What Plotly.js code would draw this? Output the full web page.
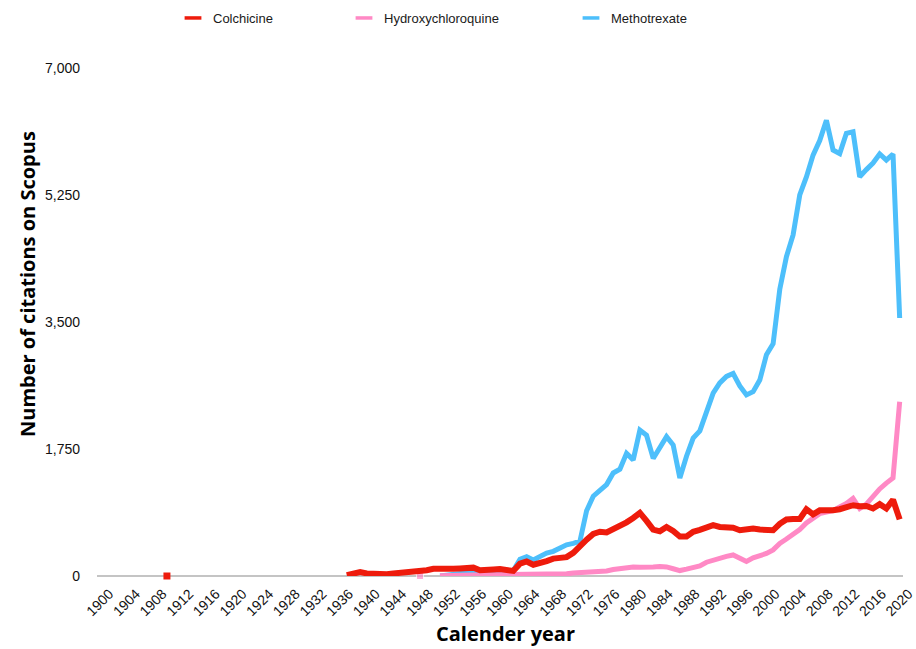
<!DOCTYPE html>
<html>
<head>
<meta charset="utf-8">
<script src="https://cdn.plot.ly/plotly-3.0.1.min.js"></script>
<style>
  html, body { margin: 0; padding: 0; background: #ffffff; }
  #chart { width: 916px; height: 649px; }
</style>
</head>
<body>
<div id="chart"></div>
<script>
// ---- Data ----
const years = [
  1937, 1938, 1939, 1940, 1941, 1942, 1943, 1944, 1945, 1946,
  1947, 1948, 1949, 1950, 1951, 1952, 1953, 1954, 1955, 1956,
  1957, 1958, 1959, 1960, 1961, 1962, 1963, 1964, 1965, 1966,
  1967, 1968, 1969, 1970, 1971, 1972, 1973, 1974, 1975, 1976,
  1977, 1978, 1979, 1980, 1981, 1982, 1983, 1984, 1985, 1986,
  1987, 1988, 1989, 1990, 1991, 1992, 1993, 1994, 1995, 1996,
  1997, 1998, 1999, 2000, 2001, 2002, 2003, 2004, 2005, 2006,
  2007, 2008, 2009, 2010, 2011, 2012, 2013, 2014, 2015, 2016,
  2017, 2018, 2019, 2020
];

const colchicine = [
  10, 40, 55, 35, 25, 25, 25, 35, 40, 45,
  50, 60, 80, 100, 95, 90, 100, 105, 110, 115,
  80, 75, 90, 95, 80, 70, 170, 200, 155, 175,
  205, 240, 250, 260, 320, 420, 500, 580, 610, 600,
  640, 680, 740, 800, 870, 760, 640, 615, 675, 620,
  545, 545, 610, 635, 665, 700, 675, 680, 665, 630,
  640, 655, 640, 630, 630, 720, 780, 785, 785, 920,
  850, 905, 900, 905, 920, 950, 975, 960, 965, 930,
  990, 930, 1050, 780
];

// isolated early Colchicine record
const colchicineEarlyYears = [1910];
const colchicineEarly = [0];

const hydroxychloroquine = [
  null, null, null, null, null, null, null, null, null, null,
  null, 0, null, null, 5, 10, 10, 10, 10, 15,
  15, 15, 15, 15, 15, 15, 20, 20, 20, 20,
  20, 20, 25, 30, 40, 45, 50, 55, 60, 70,
  90, 105, 110, 125, 120, 130, 125, 130, 125, 100,
  75, 95, 115, 140, 190, 220, 255, 270, 290, 250,
  200, 250, 275, 310, 360, 450, 510, 570, 640, 730,
  800, 860, 880, 900, 950, 1000, 1070, 930, 990, 1100,
  1200, 1280, 1350, 2400
];

const methotrexate = [
  null, null, null, null, null, null, null, null, null, null,
  null, null, null, null, 0, 15, 25, 35, 45, 55,
  60, 65, 70, 75, 75, 75, 230, 265, 220, 270,
  315, 340, 380, 430, 450, 480, 900, 1100, 1180, 1260,
  1420, 1470, 1690, 1600, 2010, 1940, 1620, 1770, 1920, 1805,
  1350, 1650, 1900, 2000, 2250, 2520, 2660, 2750, 2790, 2620,
  2495, 2540, 2700, 3050, 3200, 3950, 4400, 4700, 5250, 5500,
  5800, 6000, 6280, 5870, 5820, 6100, 6120, 5500, 5600, 5690,
  5815, 5730, 5815, 3555
];

const seriesNames = ['Colchicine', 'Hydroxychloroquine', 'Methotrexate'];
const yTickVals = [0, 1750, 3500, 5250, 7000];
const xTickStart = 1900, xTickEnd = 2020, xTickStep = 4;

// ---- Styles ----
const RED = '#ee1b0c', PINK = '#ff89c5', BLUE = '#4dbffb';
const SANS = 'Liberation Sans, Arial, sans-serif';

// marker only on points with no neighbours (so lone values stay visible)
function isolatedSizes(vals, size) {
  return vals.map((v, i) => {
    if (v === null) return 0;
    const p = i > 0 ? vals[i - 1] : null;
    const n = i < vals.length - 1 ? vals[i + 1] : null;
    return (p === null && n === null) ? size : 0;
  });
}

const traces = [
  {
    x: years, y: methotrexate, type: 'scatter', mode: 'lines+markers', cliponaxis: false,
    line: { color: BLUE, width: 5 },
    marker: { color: BLUE, symbol: 'square', size: isolatedSizes(methotrexate, 7) },
    showlegend: false, name: seriesNames[2]
  },
  {
    x: years, y: hydroxychloroquine, type: 'scatter', mode: 'lines+markers', cliponaxis: false,
    line: { color: PINK, width: 5 },
    marker: { color: PINK, symbol: 'square', size: isolatedSizes(hydroxychloroquine, 7) },
    showlegend: false, name: seriesNames[1]
  },
  {
    x: years, y: colchicine, type: 'scatter', mode: 'lines', cliponaxis: false,
    line: { color: RED, width: 6 },
    showlegend: false, name: seriesNames[0]
  },
  {
    x: colchicineEarlyYears, y: colchicineEarly, type: 'scatter', mode: 'markers', cliponaxis: false,
    marker: { color: RED, symbol: 'square', size: 7 },
    showlegend: false, name: seriesNames[0]
  },
  // legend entries (short dash swatches)
  {
    x: [null], y: [null], type: 'scatter', mode: 'markers', name: seriesNames[0],
    marker: { symbol: 'line-ew', size: 12, line: { color: RED, width: 3.5 } },
    legend: 'legend'
  },
  {
    x: [null], y: [null], type: 'scatter', mode: 'markers', name: seriesNames[1],
    marker: { symbol: 'line-ew', size: 12, line: { color: PINK, width: 3.5 } },
    legend: 'legend2'
  },
  {
    x: [null], y: [null], type: 'scatter', mode: 'markers', name: seriesNames[2],
    marker: { symbol: 'line-ew', size: 12, line: { color: BLUE, width: 3.5 } },
    legend: 'legend3'
  }
];

const xTicks = [];
for (let t = xTickStart; t <= xTickEnd; t += xTickStep) xTicks.push(t);

const legendBase = {
  orientation: 'h', xref: 'container', yref: 'container',
  xanchor: 'left', yanchor: 'middle', y: 1 - 18 / 649,
  font: { family: SANS, size: 13, color: '#1a1a1a' },
  bgcolor: 'rgba(0,0,0,0)', borderwidth: 0
};

const layout = {
  width: 916, height: 649,
  margin: { l: 97, r: 13, t: 68, b: 73 },
  paper_bgcolor: '#ffffff', plot_bgcolor: '#ffffff',
  font: { family: SANS, size: 13, color: '#1a1a1a' },
  showlegend: true,
  legend: Object.assign({}, legendBase, { x: 173 / 916 }),
  legend2: Object.assign({}, legendBase, { x: 344 / 916 }),
  legend3: Object.assign({}, legendBase, { x: 571 / 916 }),
  xaxis: {
    range: [1899.5, 2020.5],
    tickmode: 'array', tickvals: xTicks, ticktext: xTicks.map(String),
    tickangle: -45, ticks: '', showgrid: false, zeroline: false,
    showline: false, ticklabelshift: 9, ticklabelstandoff: 6,
    ticklabeloverflow: 'allow',
    tickfont: { family: SANS, size: 14, color: '#111' }
  },
  yaxis: {
    range: [0, 7000],
    tickmode: 'array', tickvals: yTickVals, tickformat: ',d',
    ticks: '', showgrid: false, zeroline: true, zerolinecolor: '#c4c4c4', zerolinewidth: 1.5,
    showline: false, ticklabelstandoff: 16,
    tickfont: { family: SANS, size: 14, color: '#111' }
  },
  annotations: [
    {
      text: 'Number of citations on Scopus', textangle: -90,
      xref: 'paper', yref: 'paper', x: 0, xshift: -70, y: (576 - 284) / 508,
      xanchor: 'center', yanchor: 'middle', showarrow: false,
      font: { family: 'Open Sans, sans-serif', size: 20, color: '#000', weight: 'bold' }
    },
    {
      text: 'Calender year',
      xref: 'paper', yref: 'paper', x: (505 - 97) / 806, y: (576 - 633) / 508,
      xanchor: 'center', yanchor: 'middle', showarrow: false,
      font: { family: 'Open Sans, sans-serif', size: 20, color: '#000', weight: 'bold' }
    }
  ]
};

Plotly.newPlot('chart', traces, layout, { displayModeBar: false, responsive: false });
</script>
</body>
</html>
